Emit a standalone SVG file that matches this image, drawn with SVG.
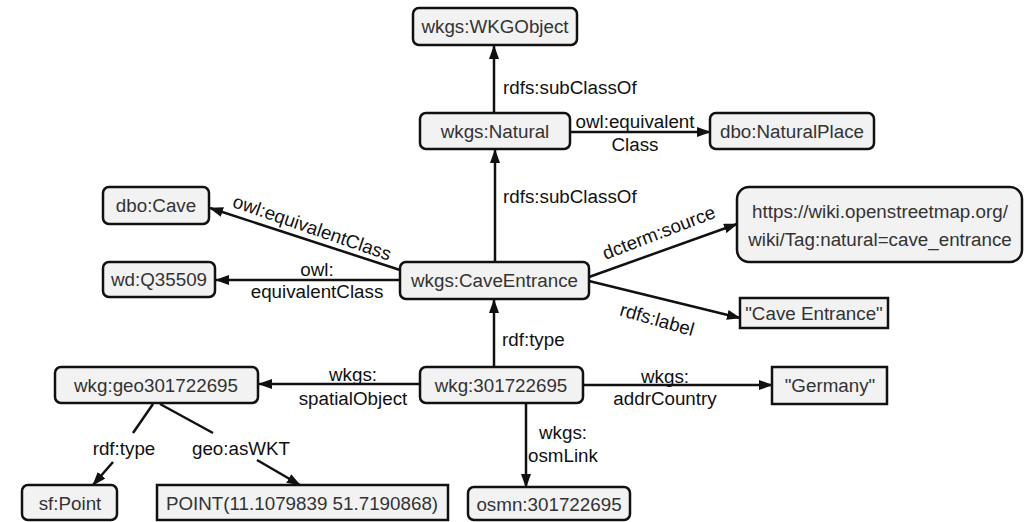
<svg xmlns="http://www.w3.org/2000/svg" width="1025" height="522" viewBox="0 0 1025 522">
<style>
.n{fill:#f2f2f2;stroke:#111;stroke-width:2.5}
.nt{font-family:"Liberation Sans",Arial,sans-serif;font-size:18.8px;fill:#333;text-anchor:middle}
.lt{font-family:"Liberation Sans",Arial,sans-serif;font-size:18.8px;fill:#111}
.m{text-anchor:middle}
.e{stroke:#111;stroke-width:2.5;fill:none}
.a{marker-end:url(#ah)}
</style>
<defs>
<marker id="ah" viewBox="0 0 14 10" refX="13" refY="5" markerWidth="14" markerHeight="10" markerUnits="userSpaceOnUse" orient="auto">
<path d="M0,0 L14,5 L0,10 z" fill="#111"/>
</marker>
</defs>
<rect width="1025" height="522" fill="#fff"/>
<g id="edges">
<line class="e a" x1="494" y1="113" x2="494" y2="46"/>
<line class="e a" x1="570" y1="132" x2="710" y2="132"/>
<line class="e a" x1="495" y1="262" x2="495" y2="150"/>
<line class="e a" x1="400" y1="270" x2="210" y2="208"/>
<line class="e a" x1="400" y1="280" x2="216" y2="280"/>
<line class="e a" x1="589" y1="277" x2="737" y2="224"/>
<line class="e a" x1="589" y1="281" x2="740" y2="318"/>
<line class="e a" x1="494" y1="367" x2="494" y2="300"/>
<line class="e a" x1="420" y1="384" x2="259" y2="384"/>
<line class="e a" x1="583" y1="385" x2="772" y2="385"/>
<line class="e a" x1="526" y1="403" x2="526" y2="487"/>
<line class="e" x1="153" y1="404" x2="133" y2="433"/>
<line class="e a" x1="113" y1="462" x2="93" y2="485"/>
<line class="e" x1="160" y1="404" x2="213" y2="433"/>
<line class="e a" x1="257" y1="460" x2="300" y2="485"/>
<text class="lt" x="503" y="94">rdfs:subClassOf</text>
<text class="lt" x="503" y="203">rdfs:subClassOf</text>
<text class="lt m" x="635" y="128">owl:equivalent</text>
<text class="lt m" x="635" y="151">Class</text>
<text class="lt m" transform="translate(312,228) rotate(19)" y="6">owl:equivalentClass</text>
<text class="lt m" x="317" y="276">owl:</text>
<text class="lt m" x="317" y="298">equivalentClass</text>
<text class="lt m" transform="translate(659,233) rotate(-21)" y="6">dcterm:source</text>
<text class="lt m" transform="translate(657,320) rotate(16)" y="6">rdfs:label</text>
<text class="lt" x="502" y="346">rdf:type</text>
<text class="lt m" x="353" y="381">wkgs:</text>
<text class="lt m" x="353" y="405">spatialObject</text>
<text class="lt m" x="665" y="383">wkgs:</text>
<text class="lt m" x="665" y="405">addrCountry</text>
<text class="lt m" x="563" y="439">wkgs:</text>
<text class="lt" x="528" y="462">osmLink</text>
<text class="lt m" x="124" y="455">rdf:type</text>
<text class="lt m" x="241" y="455">geo:asWKT</text>
</g>
<g id="wkgobject"><rect class="n" x="413" y="8" width="164" height="37" rx="6"/><text class="nt" x="495" y="33">wkgs:WKGObject</text></g>
<g id="natural"><rect class="n" x="420" y="113" width="150" height="36" rx="6"/><text class="nt" x="495" y="138">wkgs:Natural</text></g>
<g id="naturalplace"><rect class="n" x="710" y="113" width="164" height="36" rx="6"/><text class="nt" x="792" y="138">dbo:NaturalPlace</text></g>
<g id="cave"><rect class="n" x="103" y="187" width="106" height="37" rx="6"/><text class="nt" x="156" y="212">dbo:Cave</text></g>
<g id="q35509"><rect class="n" x="103" y="262" width="112" height="35" rx="6"/><text class="nt" x="159" y="286">wd:Q35509</text></g>
<g id="caveentrance"><rect class="n" x="400" y="262" width="189" height="37" rx="6"/><text class="nt" x="494.5" y="287">wkgs:CaveEntrance</text></g>
<g id="osmwiki"><rect class="n" x="737" y="187" width="285" height="75" rx="12"/><text class="nt" x="880" y="218">https://wiki.openstreetmap.org/</text><text class="nt" x="880" y="246">wiki/Tag:natural=cave_entrance</text></g>
<g id="label"><rect class="n" x="740" y="298" width="148" height="30"/><text class="nt" x="814" y="320">"Cave Entrance"</text></g>
<g id="geo"><rect class="n" x="55" y="367" width="203" height="36" rx="6"/><text class="nt" x="156" y="392">wkg:geo301722695</text></g>
<g id="wkg"><rect class="n" x="420" y="367" width="163" height="36" rx="6"/><text class="nt" x="501" y="392">wkg:301722695</text></g>
<g id="germany"><rect class="n" x="772" y="367" width="115" height="37"/><text class="nt" x="830" y="392">"Germany"</text></g>
<g id="sfpoint"><rect class="n" x="22" y="485" width="95" height="35" rx="6"/><text class="nt" x="70" y="510">sf:Point</text></g>
<g id="wkt"><rect class="n" x="157" y="485" width="291" height="35"/><text class="nt" x="302" y="510">POINT(11.1079839 51.7190868)</text></g>
<g id="osmn"><rect class="n" x="468" y="487" width="162" height="33" rx="6"/><text class="nt" x="549" y="511">osmn:301722695</text></g>
</svg>
